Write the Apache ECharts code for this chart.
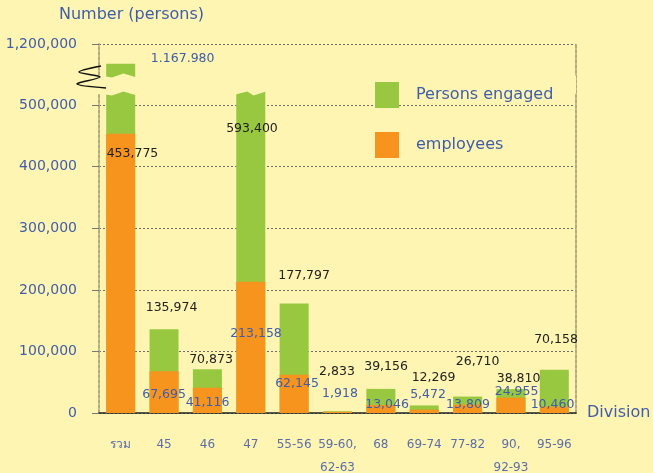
<!DOCTYPE html>
<html>
<head>
<meta charset="utf-8">
<script src="https://cdn.jsdelivr.net/npm/echarts@6/dist/echarts.min.js"></script>
<style>
  html, body { margin: 0; padding: 0; background: #fef5b2; }
  #chart { width: 653px; height: 473px; }
</style>
</head>
<body>
<div id="chart"></div>
<script>
var BG = '#fef5b2';
var BLUE = '#3f5dab';
var FONT = 'DejaVu Sans';

// data
var divisions = ['รวม', '45', '46', '47', '55-56', '59-60,\n62-63', '68', '69-74', '77-82', '90,\n92-93', '95-96'];
var personsEngaged = [1167980, 135974, 70873, 593400, 177797, 2833, 39156, 12269, 26710, 38810, 70158];
var employees = [453775, 67695, 41116, 213158, 62145, 1918, 13046, 5472, 13809, 24955, 10460];
var yTicks = [0, 100000, 200000, 300000, 400000, 500000, 1200000];

// label offsets from the bar top (layout only)
var engagedOffsets = [[62, 7], [7.5, -10], [3.6, 2], [1.2, 49], [10, -16], [-0.5, -28], [5.2, -10.4], [9.3, -16], [10, -23.3], [7.6, 1.4], [1.7, -18.3]];
var employeeOffsets = [[11.8, 32], [0, 35], [0.1, 26.8], [5.2, 63.8], [2.9, 20.8], [2.5, -6.6], [6.2, 11.5], [3.8, -3.1], [0.4, 12], [5.6, 5.9], [-1.8, 9.9]];

function fmt(v, sep) {
    return String(v).replace(/\B(?=(\d{3})+(?!\d))/g, sep);
}

var chartDom = document.getElementById('chart');
var myChart = echarts.init(chartDom, null, { renderer: 'canvas' });

var engagedData = personsEngaged.map(function (v, i) {
    return {
        value: v,
        label: {
            offset: engagedOffsets[i],
            color: i === 0 ? BLUE : '#222222',
            formatter: fmt(v, i === 0 ? '.' : ',')
        }
    };
});
var employeeData = employees.map(function (v, i) {
    return {
        value: v,
        label: {
            offset: employeeOffsets[i],
            color: i === 0 ? '#222222' : BLUE,
            formatter: fmt(v, ',')
        }
    };
});

var option = {
    backgroundColor: BG,
    animation: false,
    textStyle: { fontFamily: FONT },
    title: {
        text: 'Number (persons)',
        left: 54,
        top: 2,
        textStyle: { color: BLUE, fontSize: 16, fontWeight: 'normal', fontFamily: FONT }
    },
    legend: {
        orient: 'vertical',
        left: 375,
        top: 82,
        padding: 0,
        z: 300,
        itemWidth: 24,
        itemHeight: 26,
        itemGap: 24,
        icon: 'rect',
        data: ['Persons engaged', 'employees'],
        textStyle: { color: BLUE, fontSize: 16, fontFamily: FONT, padding: [0, 0, 0, 12] }
    },
    grid: { left: 99, right: 77, top: 44, bottom: 60, outerBoundsMode: 'none' },
    xAxis: {
        type: 'category',
        data: divisions,
        name: 'Division',
        nameGap: 11,
        nameTextStyle: { color: BLUE, fontSize: 16, fontFamily: FONT, padding: [0, 0, 16, 0] },
        axisLine: { lineStyle: { color: '#222222', width: 1.5 } },
        axisTick: { length: 6, lineStyle: { color: '#999999' } },
        axisLabel: { color: '#5b6eab', fontSize: 12, fontFamily: FONT, lineHeight: 23, margin: 20, interval: 0 }
    },
    yAxis: [
        {
            type: 'value',
            min: 0,
            max: 1200000,
            interval: 100000,
            breaks: [{ start: 520000, end: 1150000, gap: '4.9%' }],
            breakArea: {
                show: true,
                expandOnClick: false,
                zigzagAmplitude: 2,
                itemStyle: { color: BG, borderColor: BG, borderWidth: 0, opacity: 1 }
            },
            axisLine: { show: true, lineStyle: { color: '#b3ab80', width: 2, type: [3, 2] } },
            axisTick: { show: true, length: 7, customValues: yTicks, lineStyle: { color: '#777777' } },
            axisLabel: {
                color: BLUE,
                fontSize: 14,
                fontFamily: FONT,
                margin: 22,
                customValues: yTicks,
                showMaxLabel: true,
                hideOverlap: false,
                formatter: function (v) {
                    return fmt(v, ',');
                }
            },
            splitLine: { lineStyle: { color: '#6d6d6d', type: [2, 2], width: 1 } }
        },
        {
            type: 'value',
            position: 'right',
            min: 0,
            max: 1,
            axisLine: { show: true, lineStyle: { color: '#b3ab80', width: 2, type: [3, 2] } },
            axisTick: { show: false },
            axisLabel: { show: false },
            splitLine: { show: false }
        }
    ],
    graphic: [
        {
            type: 'polyline',
            z: 200,
            shape: { points: [[101, 66], [79, 72], [100, 77], [77, 84], [106, 88]], smooth: 0.3 },
            style: { stroke: '#111111', lineWidth: 1.5, fill: null }
        }
    ],
    series: [
        {
            name: 'Persons engaged',
            type: 'bar',
            barWidth: 29,
            barGap: '-100%',
            itemStyle: { color: '#97c840' },
            label: { show: true, position: 'top', fontSize: 12.5, fontFamily: FONT },
            data: engagedData
        },
        {
            name: 'employees',
            type: 'bar',
            barWidth: 29,
            barGap: '-100%',
            itemStyle: { color: '#f7941d' },
            label: { show: true, position: 'top', fontSize: 12.5, fontFamily: FONT },
            data: employeeData
        }
    ]
};

option && myChart.setOption(option);
</script>
</body>
</html>
